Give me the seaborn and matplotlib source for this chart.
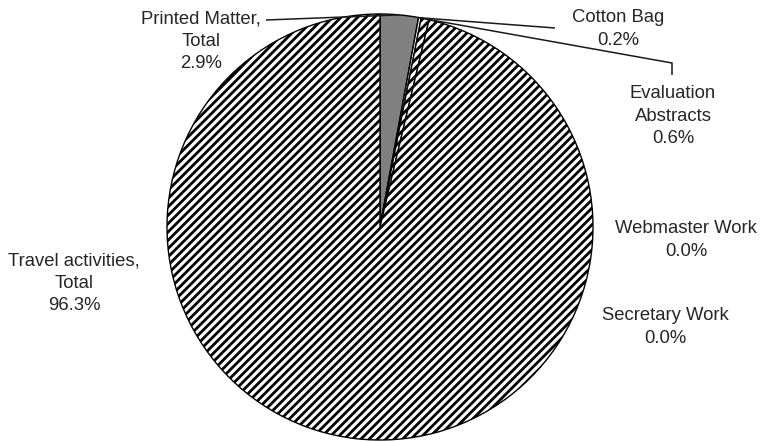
import matplotlib
matplotlib.use("Agg")
import matplotlib.pyplot as plt
import seaborn as sns
import numpy as np

# Budget shares (%), clockwise from 12 o'clock
categories = ["Printed Matter,\nTotal", "Cotton Bag", "Evaluation\nAbstracts",
              "Webmaster Work", "Secretary Work", "Travel activities,\nTotal"]
shares = [2.9, 0.2, 0.6, 0.0, 0.0, 96.3]
fills = ["#808080", "white", "white", "white", "white", "white"]
hatches = ["", "", "////", "", "", "////"]

sns.set_theme(style="white")
plt.rcParams["font.family"] = ["Liberation Sans", "DejaVu Sans"]
plt.rcParams["hatch.linewidth"] = 2.0
plt.rcParams["hatch.color"] = "black"

W, H, DPI = 764, 442, 100
fig = plt.figure(figsize=(W / DPI, H / DPI), dpi=DPI)
ax = fig.add_axes([0, 0, 1, 1])

# pixel frame: centre (380, 227), radius 213 px
cx, cy, R = 380, 227, 213
def to_data(px, py):
    return (px - cx) / R, (cy - py) / R

wedges, _ = ax.pie(shares, startangle=90, counterclock=False, radius=1.0,
                   colors=fills, normalize=True,
                   wedgeprops=dict(edgecolor="black", linewidth=1.0))
for w, h, v in zip(wedges, hatches, shares):
    w.set_hatch(h)
    if v == 0:
        w.set_linewidth(0)

ax.set_xlim(-cx / R, (W - cx) / R)
ax.set_ylim(-(H - cy) / R, cy / R)
ax.set_aspect("equal")
ax.axis("off")

# label placement (pixel positions of text centres)
label_px = [(201, 41), (618, 29), (673, 116), (686, 240), (665, 327), (74, 283)]
txt_color = "#262626"
for name, val, (px, py) in zip(categories, shares, label_px):
    x, y = to_data(px, py)
    ax.text(x, y, f"{name}\n{val:.1f}%", ha="center", va="center",
            fontsize=13.3, color=txt_color, linespacing=1.42)

# leader lines from wedge mid-angle on the rim to the labels
cum = np.cumsum([0] + shares[:-1])
def rim_point(i):
    mid = 90 - 360 * (cum[i] + shares[i] / 2) / 100
    return np.cos(np.radians(mid)), np.sin(np.radians(mid))

leaders = {0: [(266, 20)], 1: [(555, 28)], 2: [(672, 63), (672, 75)]}
for i, pts in leaders.items():
    x0, y0 = rim_point(i)
    xs = [x0] + [to_data(*p)[0] for p in pts]
    ys = [y0] + [to_data(*p)[1] for p in pts]
    ax.plot(xs, ys, color="#1a1a1a", linewidth=1.1, solid_capstyle="butt")

fig.savefig("out.png", dpi=DPI, facecolor="white")
